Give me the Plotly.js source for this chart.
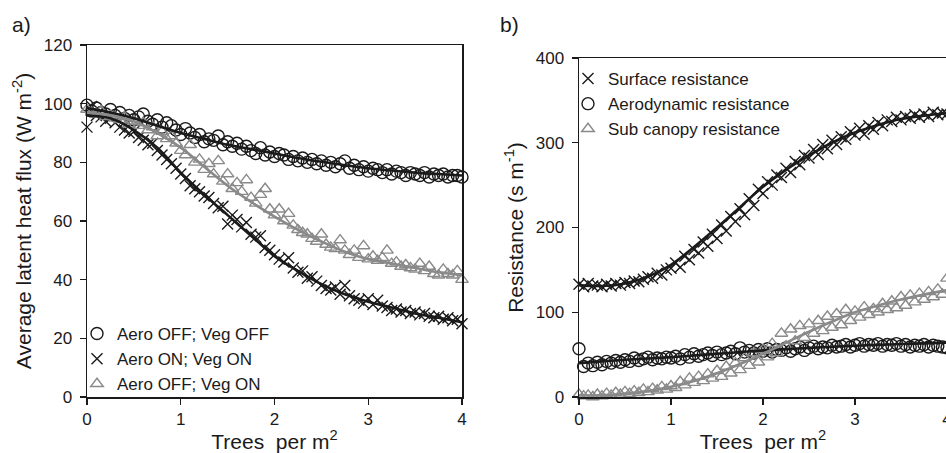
<!DOCTYPE html>
<html>
<head>
<meta charset="utf-8">
<script src="https://cdn.plot.ly/plotly-3.0.1.min.js"></script>
<style>
html,body{margin:0;padding:0;overflow:hidden;background:#fff;}
#chart{width:960px;height:453px;}
</style>
</head>
<body>
<div id="chart"></div>
<script>
// ---- data ----
const treesPerM2 = [0,0.05,0.1,0.15,0.2,0.25,0.3,0.35,0.4,0.45,0.5,0.55,0.6,0.65,0.7,0.75,0.8,0.85,0.9,0.95,1,1.05,1.1,1.15,1.2,1.25,1.3,1.35,1.4,1.45,1.5,1.55,1.6,1.65,1.7,1.75,1.8,1.85,1.9,1.95,2,2.05,2.1,2.15,2.2,2.25,2.3,2.35,2.4,2.45,2.5,2.55,2.6,2.65,2.7,2.75,2.8,2.85,2.9,2.95,3,3.05,3.1,3.15,3.2,3.25,3.3,3.35,3.4,3.45,3.5,3.55,3.6,3.65,3.7,3.75,3.8,3.85,3.9,3.95,4];
const fitTrees = [0,0.25,0.5,0.75,1,1.25,1.5,1.75,2,2.25,2.5,2.75,3,3.25,3.5,3.75,4];

// panel a: average latent heat flux (W m-2)
const aeroOffVegOff = [99.5,97.5,98.5,97,96.5,98,96,97,95,96,94.5,95.5,96.5,94,93,94.5,92,93.5,92.5,91,89.5,91.5,90,88.5,89.5,87,88,87.5,89,86,87,85.5,86.5,84.5,85.5,84,83,85,82.5,83.5,82,83,82.5,81,82,80.5,81.5,80,81,79.5,80.5,79,80,78.5,79.5,80.5,78,79,77.5,78.5,77,78,77.5,76.5,77.5,76,77,76.5,75.5,76.5,76,75.5,76.5,75,76,75.5,76,75,75.5,75.5,75];
const aeroOnVegOn = [92,99,96,95.5,94,95,93.5,92,91,90,90.5,88.5,87.5,86,86.5,84,82.5,81,79.5,78,76,74.5,72,71,70,68.5,68,66,64.5,65,59,62,60.5,58,59.5,55.5,54.5,55,51,50,48.5,47,46,47.5,44,42.5,43,40.5,41,39.5,38,37,36.5,37.5,35,38,34.5,33.5,33,32,33.5,31.5,33,31,30.5,29.5,30,29,29.5,28.5,29,28,28.5,27.5,27,27.5,26.5,27,26,26.5,25];
const aeroOffVegOn = [98,97,96.5,97.5,95.5,96,95,94.5,95.5,93,94,92.5,93.5,91,92,89,90.5,88,89,86.5,84,82.5,86,80,81,77.5,79.5,76,80.5,73.5,76,71,73,70,74,68,66,69,71,64,62,64,60,62.5,58.5,57,56,55.5,54,53,55.5,52,51,50.5,53.5,50,48.5,50,47.5,51.5,47,48,46.5,47.5,50,45.5,46,44.5,45,44,43.5,45.5,43,44.5,42,41.5,43.5,42,41.5,43,40];
const fitOffOff = [98.5,97,95,92.5,90,88,86,84.5,83,81.5,80.2,79,78,77.2,76.5,76,75.5];
const fitOnOn = [96,95,91,85,76.5,69,62,55,48,43,38.5,35,32.5,30.5,28.5,27,25.5];
const fitOffOn = [97,96,94,90,85,78.5,72,66.5,61.5,57,53,49.5,47,45.5,44,42.5,41.5];

// panel b: resistance (s m-1)
const surfaceRes = [133,130,134,131,132,130,133,131,134,132,135,134,137,136,139,142,140,146,144,150,152,158,153,166,162,174,170,183,178,192,187,203,196,213,207,222,215,234,226,245,240,254,250,262,259,270,265,278,274,285,282,292,286,298,293,303,298,307,304,313,309,317,310,320,316,324,320,327,325,330,327,331,329,333,330,334,331,336,333,335,334];
const aeroRes = [57,36,40,37,41,38,42,40,43,41,44,42,46,43,45,47,44,46,45,47,46,48,45,50,47,51,48,50,52,49,53,50,52,54,51,58,53,55,52,56,54,57,53,56,55,58,54,57,59,55,58,60,57,59,58,61,59,60,62,59,61,63,60,62,61,63,60,62,61,63,60,62,59,61,60,62,59,61,60,59,58];
const subCanopyRes = [3,1,2,0,3,1,4,2,5,3,6,4,7,5,9,6,10,8,12,9,13,11,18,14,22,17,24,19,27,22,31,24,36,28,40,32,46,37,52,41,56,47,63,52,75,60,80,66,84,70,86,75,90,78,95,82,98,85,103,90,101,94,106,97,104,100,110,103,113,105,118,108,120,112,122,115,124,118,127,121,140];
const fitSurface = [132,131,134,142,156,177,200,224,248,268,285,300,312,321,328,332,335];
const fitAero = [40,42,44,45.5,47,49,51,53,55,56.5,58,59.3,60.5,61.5,62.5,63.3,64];
const fitSubCanopy = [2,2,4,7,12,19,28,39,51,64,77,89,100,108,115,121,126];

const xTicks = [0,1,2,3,4];

// ---- styling ----
const BLACK = '#1a1a1a';
const GRAY = '#8a8a8a';
const FONT = 'Liberation Sans, Arial, Helvetica, sans-serif';

function pts(x, y, sym, col, name, xa, ya, leg, size) {
  return {x: x, y: y, type: 'scatter', mode: 'markers', name: name,
    xaxis: xa, yaxis: ya, legend: leg, cliponaxis: false,
    marker: {symbol: sym, size: size, color: col, line: {color: col, width: 1.4}}};
}
function fit(x, y, col, xa, ya) {
  return {x: x, y: y, type: 'scatter', mode: 'lines', showlegend: false,
    xaxis: xa, yaxis: ya, hoverinfo: 'skip',
    line: {color: col, width: 2.6, shape: 'spline', smoothing: 1}};
}

const data = [
  pts(treesPerM2, aeroOffVegOff, 'circle-open', BLACK, 'Aero OFF; Veg OFF', 'x', 'y', 'legend', 12),
  pts(treesPerM2, aeroOnVegOn, 'x-thin-open', BLACK, 'Aero ON; Veg ON', 'x', 'y', 'legend', 11),
  pts(treesPerM2, aeroOffVegOn, 'triangle-up-open', GRAY, 'Aero OFF; Veg ON', 'x', 'y', 'legend', 11),
  fit(fitTrees, fitOffOff, BLACK, 'x', 'y'),
  fit(fitTrees, fitOnOn, BLACK, 'x', 'y'),
  fit(fitTrees, fitOffOn, GRAY, 'x', 'y'),
  pts(treesPerM2, surfaceRes, 'x-thin-open', BLACK, 'Surface resistance', 'x2', 'y2', 'legend2', 11),
  pts(treesPerM2, aeroRes, 'circle-open', BLACK, 'Aerodynamic resistance', 'x2', 'y2', 'legend2', 12),
  pts(treesPerM2, subCanopyRes, 'triangle-up-open', GRAY, 'Sub canopy resistance', 'x2', 'y2', 'legend2', 11),
  fit(fitTrees, fitSurface, BLACK, 'x2', 'y2'),
  fit(fitTrees, fitAero, BLACK, 'x2', 'y2'),
  fit(fitTrees, fitSubCanopy, GRAY, 'x2', 'y2')
];

const W = 960, H = 453;
function axisBase() {
  return {showline: true, linecolor: BLACK, linewidth: 1.5, mirror: true,
    ticks: 'outside', ticklen: 6, tickwidth: 1.3, tickcolor: BLACK, ticklabelstandoff: 4,
    showgrid: false, zeroline: false, tickfont: {family: FONT, size: 17, color: '#1a1a1a'}};
}
const xTitle = {text: 'Trees\u00a0 per m<sup>2</sup>', font: {family: FONT, size: 21, color: '#1a1a1a'}, standoff: 2};

const layout = {
  width: W, height: H,
  margin: {l: 0, r: 0, t: 0, b: 0},
  paper_bgcolor: '#fff', plot_bgcolor: '#fff',
  font: {family: FONT, color: '#1a1a1a'},
  xaxis: Object.assign(axisBase(), {domain: [87/W, 462/W], range: [0, 4], tickvals: xTicks, anchor: 'y', title: xTitle, ticklabelstandoff: 0}),
  yaxis: Object.assign(axisBase(), {domain: [56/H, 408/H], range: [0, 120], dtick: 20, anchor: 'x',
    title: {text: 'Average latent heat flux (W m<sup>-2</sup>)', font: {family: FONT, size: 21, color: '#1a1a1a'}, standoff: 6}}),
  xaxis2: Object.assign(axisBase(), {domain: [579/W, 947/W], range: [0, 4], tickvals: xTicks, anchor: 'y2', title: xTitle, ticklabelstandoff: 0}),
  yaxis2: Object.assign(axisBase(), {domain: [56/H, 395/H], range: [0, 400], dtick: 100, anchor: 'x2',
    title: {text: 'Resistance (s m<sup>-1</sup>)', font: {family: FONT, size: 21, color: '#1a1a1a'}, standoff: 6}}),
  legend: {x: 77/W, y: (H-316)/H, xanchor: 'left', yanchor: 'top', bgcolor: 'rgba(0,0,0,0)',
    font: {family: FONT, size: 17, color: '#1a1a1a'}, itemwidth: 30, tracegroupgap: 0},
  legend2: {x: 568/W, y: (H-61)/H, xanchor: 'left', yanchor: 'top', bgcolor: 'rgba(0,0,0,0)',
    font: {family: FONT, size: 17, color: '#1a1a1a'}, itemwidth: 30, tracegroupgap: 0},
  annotations: [
    {text: 'a)', xref: 'paper', yref: 'paper', x: 10/W, y: (H-25)/H, xanchor: 'left', yanchor: 'middle', showarrow: false, font: {family: FONT, size: 21, color: '#1a1a1a'}},
    {text: 'b)', xref: 'paper', yref: 'paper', x: 498/W, y: (H-25)/H, xanchor: 'left', yanchor: 'middle', showarrow: false, font: {family: FONT, size: 21, color: '#1a1a1a'}}
  ],
  showlegend: true
};

Plotly.newPlot('chart', data, layout, {displayModeBar: false, staticPlot: true});
</script>
</body>
</html>
